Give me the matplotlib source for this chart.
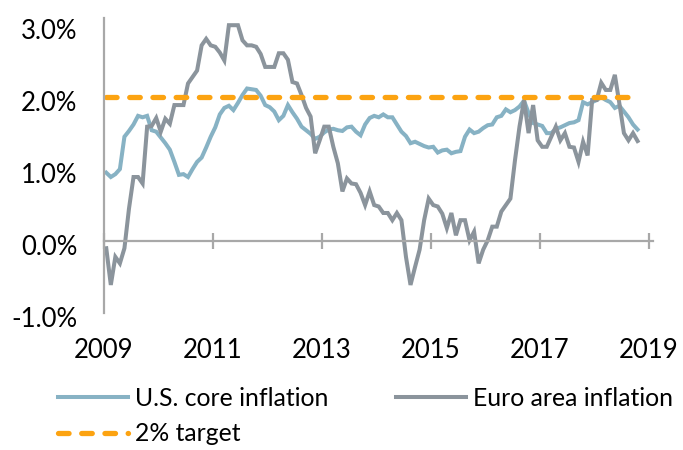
import numpy as np
import pandas as pd
import matplotlib
matplotlib.use("Agg")
import matplotlib.pyplot as plt
from matplotlib.transforms import ScaledTranslation

# ----- datos (inflación interanual, %) -----
meses = pd.date_range("2009-06-01", periods=118, freq="MS")

us_core = [0.95, 0.89, 0.93, 1.00, 1.45, 1.53, 1.62, 1.74, 1.72, 1.74,
           1.54, 1.52, 1.44, 1.36, 1.27, 1.10, 0.92, 0.93, 0.89, 1.00,
           1.10, 1.16, 1.30, 1.45, 1.58, 1.76, 1.85, 1.88, 1.82, 1.92,
           2.03, 2.12, 2.11, 2.10, 2.02, 1.89, 1.86, 1.80, 1.68, 1.74,
           1.89, 1.79, 1.70, 1.59, 1.54, 1.49, 1.42, 1.45, 1.51, 1.55,
           1.56, 1.54, 1.53, 1.58, 1.59, 1.52, 1.47, 1.62, 1.71, 1.74,
           1.72, 1.76, 1.72, 1.72, 1.62, 1.52, 1.46, 1.36, 1.38, 1.35,
           1.32, 1.30, 1.31, 1.23, 1.26, 1.27, 1.22, 1.24, 1.25, 1.45,
           1.55, 1.50, 1.52, 1.57, 1.61, 1.62, 1.72, 1.74, 1.83, 1.79,
           1.82, 1.87, 1.95, 1.78, 1.64, 1.62, 1.60, 1.50, 1.50, 1.56,
           1.58, 1.61, 1.64, 1.65, 1.68, 1.93, 1.90, 1.93, 1.96, 2.00,
           1.96, 1.93, 1.85, 1.88, 1.80, 1.72, 1.62, 1.55]

euro = [-0.10, -0.61, -0.22, -0.31, -0.10, 0.45, 0.89, 0.89, 0.80, 1.59,
        1.60, 1.71, 1.52, 1.70, 1.63, 1.89, 1.89, 1.89, 2.19, 2.28,
        2.37, 2.72, 2.81, 2.72, 2.70, 2.62, 2.51, 3.00, 3.00, 3.00,
        2.79, 2.72, 2.72, 2.70, 2.60, 2.42, 2.42, 2.42, 2.61, 2.61,
        2.52, 2.21, 2.19, 2.03, 1.85, 1.73, 1.22, 1.40, 1.59, 1.59,
        1.31, 1.08, 0.69, 0.87, 0.80, 0.79, 0.67, 0.50, 0.69, 0.50,
        0.48, 0.39, 0.39, 0.29, 0.39, 0.29, -0.22, -0.61, -0.36, -0.12,
        0.29, 0.59, 0.50, 0.48, 0.38, 0.18, 0.39, 0.08, 0.29, 0.29,
        0.01, 0.13, -0.31, -0.12, 0.01, 0.20, 0.20, 0.41, 0.50, 0.59,
        1.12, 1.59, 1.96, 1.50, 1.89, 1.40, 1.31, 1.31, 1.45, 1.59,
        1.40, 1.50, 1.31, 1.30, 1.10, 1.38, 1.19, 1.96, 1.96, 2.20,
        2.10, 2.10, 2.31, 1.91, 1.50, 1.40, 1.50, 1.39]

meta = 2.0
etiquetas_anio = ["2009", "2011", "2013", "2015", "2017", "2019"]
ticks_y = [-1.0, 0.0, 1.0, 2.0, 3.0]

# ----- estilo -----
plt.rcParams["font.family"] = ["Lato", "DejaVu Sans"]
col_us = "#87B2C4"
col_euro = "#8B949C"
col_meta = "#FCA311"
col_eje = "#A8A8A8"
fs = 18.5
fs_ley = 17.8

fig = plt.figure(figsize=(6.83, 4.5), dpi=100)
ax = fig.add_axes([104 / 683, 1 - 313 / 450, 549 / 683, 295 / 450])

x = np.arange(len(meses))
l_us, = ax.plot(x, us_core, color=col_us, lw=2.9, solid_joinstyle="miter",
                label="U.S. core inflation")
l_eu, = ax.plot(x, euro, color=col_euro, lw=2.9, solid_joinstyle="miter",
                label="Euro area inflation")
l_mt, = ax.plot(x, [meta] * len(x), color=col_meta, lw=3.8,
                dashes=(2.0, 2.4), dash_capstyle="round", label="2% target")

ax.set_xlim(-0.5, 120.4)
ax.set_ylim(-1.0, 3.1)

for s in ["top", "right"]:
    ax.spines[s].set_visible(False)
ax.spines["left"].set_color(col_eje)
ax.spines["left"].set_linewidth(1.6)
ax.spines["bottom"].set_position(("data", 0))
ax.spines["bottom"].set_color(col_eje)
ax.spines["bottom"].set_linewidth(1.6)

pos_ticks = [-0.5 + 24 * k for k in range(len(etiquetas_anio))]
ax.set_xticks(pos_ticks)
ax.set_xticklabels([])
ax.tick_params(axis="x", direction="inout", length=12, width=1.6, color=col_eje)
for p, lab in zip(pos_ticks, etiquetas_anio):
    ax.text(p, -1.35, lab, ha="center", va="top", fontsize=fs, clip_on=False)

ax.set_yticks(ticks_y)
ax.set_yticklabels([f"{v:.1f}%" for v in ticks_y], fontsize=fs)
ax.tick_params(axis="y", length=0, pad=19)
for lab in ax.get_yticklabels():
    lab.set_transform(lab.get_transform() + ScaledTranslation(0, -3 / 72, fig.dpi_scale_trans))

fig.legend([l_us, l_mt, l_eu], ["U.S. core inflation", "2% target", "Euro area inflation"],
           ncol=2, loc="upper left", bbox_to_anchor=(58 / 683, 1 - 387 / 450),
           frameon=False, fontsize=fs_ley, handlelength=2.83, handletextpad=0.28,
           columnspacing=2.75, labelspacing=0.5, borderpad=0, borderaxespad=0)

fig.savefig("out.png", dpi=100)
